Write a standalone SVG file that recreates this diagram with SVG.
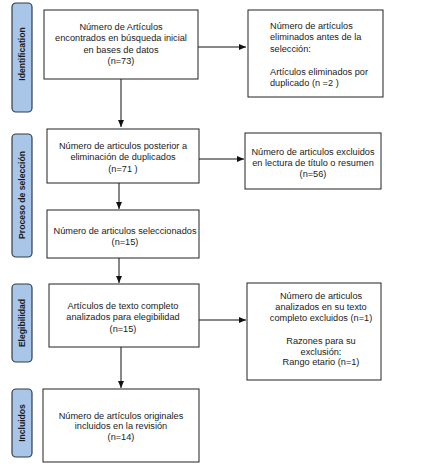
<svg xmlns="http://www.w3.org/2000/svg" width="444" height="470" viewBox="0 0 444 470">
<style>
.box{fill:#fff;stroke:#222;stroke-width:1}
.side{fill:#a9c6e9;stroke:#2f3d4c;stroke-width:1.2}
.t{font-family:"Liberation Sans",Arial,sans-serif;font-size:9.2px;fill:#1a1a1a}
.c{text-anchor:middle}
.s{font-family:"Liberation Sans",Arial,sans-serif;font-size:8.6px;font-weight:bold;fill:#1a1a1a;text-anchor:middle}
.ln{stroke:#111;stroke-width:1;fill:none}
</style>
<defs>
<marker id="ah" markerWidth="8" markerHeight="8" refX="7" refY="4" orient="auto" markerUnits="userSpaceOnUse">
<path d="M0,1 L7,4 L0,7 Z" fill="#111"/>
</marker>
</defs>
<rect width="444" height="470" fill="#fff"/>
<g id="lbl-identification">
<rect class="side" x="12" y="3" width="20" height="109" rx="4"/>
<text class="s" transform="translate(25,54) rotate(-90)">Identification</text>
</g>
<g id="lbl-proceso">
<rect class="side" x="12" y="134" width="20" height="123" rx="4"/>
<text class="s" transform="translate(25,195) rotate(-90)">Proceso de selección</text>
</g>
<g id="lbl-elegibilidad">
<rect class="side" x="12" y="284" width="20" height="78" rx="4"/>
<text class="s" transform="translate(25,323) rotate(-90)">Elegibilidad</text>
</g>
<g id="lbl-incluidos">
<rect class="side" x="12" y="389" width="20" height="68" rx="4"/>
<text class="s" transform="translate(25,423) rotate(-90)">Incluidos</text>
</g>
<g id="connectors">
<line class="ln" x1="121" y1="79" x2="121" y2="127" marker-end="url(#ah)"/>
<line class="ln" x1="198" y1="47" x2="246" y2="47" marker-end="url(#ah)"/>
<line class="ln" x1="119" y1="183" x2="119" y2="209" marker-end="url(#ah)"/>
<line class="ln" x1="199" y1="159" x2="244" y2="159" marker-end="url(#ah)"/>
<line class="ln" x1="119" y1="258" x2="119" y2="283" marker-end="url(#ah)"/>
<line class="ln" x1="199" y1="320" x2="246" y2="320" marker-end="url(#ah)"/>
<line class="ln" x1="121" y1="347" x2="121" y2="388" marker-end="url(#ah)"/>
</g>
<g id="n1">
<rect class="box" x="44" y="10" width="154" height="69"/>
<text class="t c" x="121" y="29.5">Número de Artículos</text>
<text class="t c" x="121" y="41">encontrados en búsqueda inicial</text>
<text class="t c" x="121" y="52.5">en bases de datos</text>
<text class="t c" x="121" y="64">(n=73)</text>
</g>
<g id="r1">
<rect class="box" x="248" y="10" width="135" height="87"/>
<text class="t" x="270" y="28.5">Número de artículos</text>
<text class="t" x="270" y="40">eliminados antes de la</text>
<text class="t" x="270" y="51.5">selección:</text>
<text class="t" x="270" y="75">Artículos eliminados por</text>
<text class="t" x="270" y="86">duplicado  (n =2 )</text>
</g>
<g id="n2">
<rect class="box" x="47" y="129" width="152" height="54"/>
<text class="t c" x="123" y="148.5">Número de articulos posterior a</text>
<text class="t c" x="123" y="160">eliminación de duplicados</text>
<text class="t c" x="123" y="171.5">(n=71 )</text>
</g>
<g id="r2">
<rect class="box" x="245" y="133" width="136" height="56"/>
<text class="t c" x="313" y="154.5">Número de articulos excluidos</text>
<text class="t c" x="313" y="165.5">en lectura de título o resumen</text>
<text class="t c" x="313" y="176.5">(n=56)</text>
</g>
<g id="n3">
<rect class="box" x="47" y="210" width="152" height="48"/>
<text class="t c" x="125" y="233.5">Número de articulos seleccionados</text>
<text class="t c" x="125" y="244.5">(n=15)</text>
</g>
<g id="n4">
<rect class="box" x="49" y="284" width="150" height="63"/>
<text class="t c" x="123" y="308.5">Artículos de texto completo</text>
<text class="t c" x="123" y="320">analizados para elegibilidad</text>
<text class="t c" x="123" y="331.5">(n=15)</text>
</g>
<g id="r3">
<rect class="box" x="247" y="283" width="134" height="97"/>
<text class="t c" x="321" y="298.5">Número de articulos</text>
<text class="t c" x="321" y="309.5">analizados en su texto</text>
<text class="t c" x="321" y="320.5">completo excluidos (n=1)</text>
<text class="t c" x="321" y="343.5">Razones para su</text>
<text class="t c" x="321" y="354.5">exclusión:</text>
<text class="t c" x="321" y="365">Rango etario (n=1)</text>
</g>
<g id="n5">
<rect class="box" x="43" y="389" width="156" height="73"/>
<text class="t c" x="121" y="418.5">Número de artículos originales</text>
<text class="t c" x="121" y="429">incluidos en la revisión</text>
<text class="t c" x="121" y="439.5">(n=14)</text>
</g>
</svg>
